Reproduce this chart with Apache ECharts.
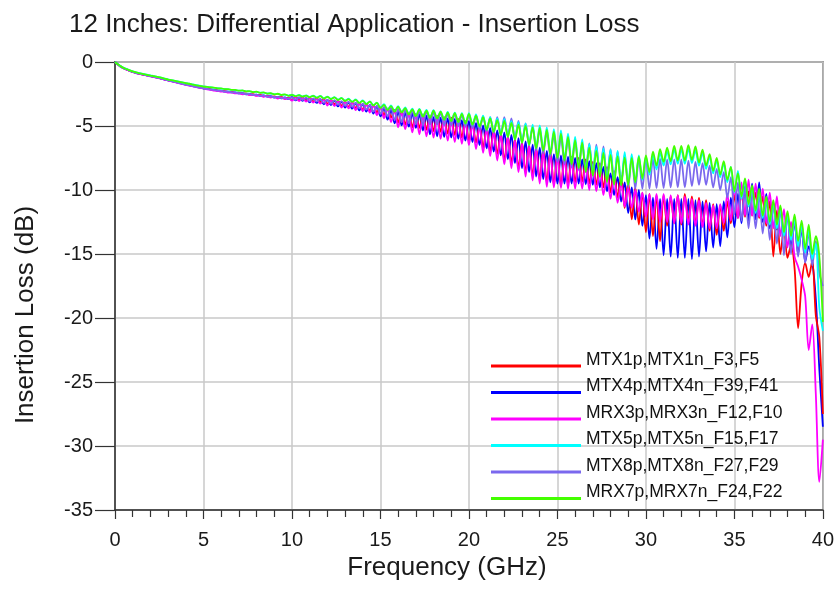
<!DOCTYPE html>
<html><head><meta charset="utf-8">
<script src="https://cdn.jsdelivr.net/npm/echarts@6/dist/echarts.min.js"></script>
<style>html,body{margin:0;padding:0;background:#fff}#c{width:837px;height:603px}</style>
</head><body><div id="c"></div>
<script>
const title = '12 Inches: Differential Application - Insertion Loss';
const xName = 'Frequency (GHz)';
const yName = 'Insertion Loss (dB)';
const seriesNames = ['MTX1p,MTX1n_F3,F5','MTX4p,MTX4n_F39,F41','MRX3p,MRX3n_F12,F10','MTX5p,MTX5n_F15,F17','MTX8p,MTX8n_F27,F29','MRX7p,MRX7n_F24,F22'];
const xTicks = [0,5,10,15,20,25,30,35,40];
const yTicks = [0,-5,-10,-15,-20,-25,-30,-35];

const freq = [
0,0.2,0.4,0.6,0.8, 1,1.2,1.4,1.6,1.8, 2,2.2,2.4,2.6,2.8, 3,3.2,3.4,3.6,3.8, 4,4.2,4.4,4.6,4.8,
5,5.2,5.4,5.6,5.8, 6,6.2,6.4,6.6,6.8, 7,7.2,7.4,7.6,7.8, 8,8.2,8.4,8.6,8.8, 9,9.2,9.4,9.6,9.8,
10,10.2,10.4,10.6,10.8, 11,11.2,11.4,11.6,11.8, 12,12.2,12.4,12.6,12.8, 13,13.2,13.4,13.6,13.8, 14,14.2,14.4,14.6,14.8,
15,15.2,15.4,15.6,15.8, 16,16.2,16.4,16.6,16.8, 17,17.2,17.4,17.6,17.8, 18,18.2,18.4,18.6,18.8, 19,19.2,19.4,19.6,19.8,
20,20.2,20.4,20.6,20.8, 21,21.2,21.4,21.6,21.8, 22,22.2,22.4,22.6,22.8, 23,23.2,23.4,23.6,23.8, 24,24.2,24.4,24.6,24.8,
25,25.2,25.4,25.6,25.8, 26,26.2,26.4,26.6,26.8, 27,27.2,27.4,27.6,27.8, 28,28.2,28.4,28.6,28.8, 29,29.2,29.4,29.6,29.8,
30,30.2,30.4,30.6,30.8, 31,31.2,31.4,31.6,31.8, 32,32.2,32.4,32.6,32.8, 33,33.2,33.4,33.6,33.8, 34,34.2,34.4,34.6,34.8,
35,35.2,35.4,35.6,35.8, 36,36.2,36.4,36.6,36.8, 37,37.2,37.4,37.6,37.8, 38,38.2,38.4,38.6,38.8, 39,39.2,39.4,39.6,39.8,
40];

// MTX1p,MTX1n_F3,F5 (red)
const mtx1 = [
0,-0.24,-0.43,-0.56,-0.67, -0.77,-0.85,-0.92,-0.98,-1.04, -1.10,-1.16,-1.22,-1.29,-1.35, -1.42,-1.48,-1.55,-1.61,-1.68, -1.74,-1.80,-1.86,-1.92,-1.98,
-2.02,-2.10,-2.12,-2.20,-2.21, -2.28,-2.28,-2.35,-2.34,-2.42, -2.40,-2.48,-2.46,-2.55,-2.52, -2.61,-2.57,-2.68,-2.63,-2.74, -2.68,-2.80,-2.73,-2.86,-2.78,
-2.97,-2.74,-2.99,-2.76,-3.03, -2.81,-3.10,-2.83,-3.14,-2.90, -3.26,-2.96,-3.30,-3.02,-3.42, -3.10,-3.52,-3.13,-3.60,-3.20, -3.75,-3.27,-3.82,-3.35,-3.95,
-3.50,-4.15,-3.65,-4.35,-3.75, -4.75,-3.85,-4.90,-3.95,-5.10, -4.05,-5.15,-4.10,-5.30,-4.20, -5.40,-4.20,-5.45,-4.30,-5.60, -4.35,-5.70,-4.45,-5.90,-4.60,
-6.15,-4.75,-6.30,-4.95,-6.70, -5.10,-7.00,-5.30,-7.20,-5.60, -7.70,-5.80,-7.90,-6.05,-8.30, -6.30,-8.60,-6.50,-8.90,-6.70, -9.20,-6.85,-9.40,-7.00,-9.60,
-7.10,-9.70,-7.25,-9.55,-7.40, -9.40,-7.50,-9.35,-7.60,-9.50, -7.80,-9.60,-7.90,-9.80,-8.20, -10.20,-8.50,-10.60,-8.90,-11.40, -9.40,-12.30,-9.80,-12.70,-10.20,
-13.30,-10.30,-13.60,-10.40,-14.00, -10.40,-12.80,-10.50,-12.60,-10.40, -12.70,-10.30,-12.50,-10.50,-12.70, -10.60,-12.80,-10.80,-13.20,-11.10, -13.50,-11.20,-13.20,-10.90,-12.60,
-10.40,-12.20,-10.20,-12.10,-10.10, -12.00,-10.20,-12.20,-10.50,-12.80, -10.90,-15.20,-11.60,-15.00,-13.00, -15.30,-14.30,-16.10,-20.80,-17.30, -15.70,-16.80,-15.50,-19.80,-21.50,
-27.5];

// MTX4p,MTX4n_F39,F41 (blue)
const mtx4 = [
0,-0.23,-0.42,-0.56,-0.67, -0.77,-0.86,-0.92,-0.98,-1.05, -1.11,-1.17,-1.23,-1.29,-1.37, -1.43,-1.50,-1.56,-1.63,-1.70, -1.76,-1.82,-1.88,-1.95,-2.00,
-2.07,-2.10,-2.15,-2.17,-2.24, -2.24,-2.31,-2.31,-2.38,-2.38, -2.45,-2.43,-2.52,-2.49,-2.58, -2.55,-2.65,-2.61,-2.71,-2.67, -2.78,-2.72,-2.84,-2.77,-2.90,
-2.73,-3.00,-2.76,-3.04,-2.82, -3.15,-2.86,-3.20,-2.92,-3.30, -2.97,-3.36,-3.02,-3.47,-3.10, -3.57,-3.16,-3.65,-3.22,-3.78, -3.27,-3.88,-3.35,-4.03,-3.45,
-4.25,-3.60,-4.50,-3.75,-4.80, -3.90,-4.95,-3.98,-5.05,-4.02, -5.15,-4.10,-5.35,-4.20,-5.65, -4.30,-5.80,-4.35,-5.85,-4.40, -5.90,-4.45,-6.00,-4.55,-6.15,
-4.60,-6.25,-4.75,-6.50,-4.95, -6.75,-5.15,-7.00,-5.35,-7.30, -5.50,-7.60,-5.70,-7.90,-5.95, -8.30,-6.20,-8.60,-6.45,-8.95, -6.70,-9.15,-6.95,-9.40,-7.20,
-9.50,-7.30,-9.50,-7.40,-9.50, -7.50,-9.50,-7.60,-9.55,-7.75, -9.60,-7.90,-9.80,-8.20,-10.10, -8.70,-10.40,-9.00,-10.90,-9.40, -11.80,-9.80,-12.30,-10.00,-12.80,
-10.40,-13.80,-10.60,-14.60,-10.70, -15.10,-10.70,-15.20,-10.70,-15.30, -10.70,-15.30,-10.70,-15.40,-10.80, -15.20,-10.90,-14.80,-11.00,-14.50, -11.10,-14.40,-10.90,-13.70,-10.60,
-12.90,-10.30,-12.60,-9.70,-12.40, -9.50,-12.30,-9.40,-12.50,-10.30, -13.00,-11.00,-13.10,-11.40,-13.50, -12.00,-14.50,-12.50,-15.00,-13.00, -15.60,-14.40,-15.60,-18.50,-24.00,
-28.5];

// MRX3p,MRX3n_F12,F10 (magenta)
const mrx3 = [
0,-0.24,-0.43,-0.56,-0.67, -0.78,-0.86,-0.93,-0.99,-1.06, -1.12,-1.18,-1.24,-1.31,-1.38, -1.45,-1.51,-1.58,-1.65,-1.71, -1.78,-1.84,-1.90,-1.96,-2.02,
-2.06,-2.14,-2.16,-2.24,-2.25, -2.32,-2.32,-2.39,-2.38,-2.45, -2.44,-2.52,-2.50,-2.58,-2.56, -2.65,-2.61,-2.72,-2.67,-2.78, -2.72,-2.85,-2.77,-2.90,-2.82,
-3.02,-2.78,-3.05,-2.80,-3.10, -2.85,-3.18,-2.88,-3.25,-2.95, -3.40,-3.00,-3.45,-3.07,-3.56, -3.10,-3.63,-3.17,-3.75,-3.22, -3.85,-3.30,-3.95,-3.38,-4.15,
-3.55,-4.40,-3.65,-4.70,-3.80, -5.10,-3.95,-5.25,-4.05,-5.50, -4.10,-5.65,-4.20,-5.80,-4.30, -5.90,-4.30,-6.00,-4.45,-6.15, -4.50,-6.25,-4.60,-6.40,-4.65,
-6.50,-4.80,-6.80,-5.05,-7.10, -5.20,-7.35,-5.45,-7.70,-5.70, -8.00,-5.90,-8.30,-6.15,-8.60, -6.40,-8.95,-6.60,-9.25,-6.80, -9.50,-7.00,-9.75,-7.20,-9.80,
-7.40,-9.85,-7.55,-9.90,-7.70, -9.90,-7.80,-9.90,-7.90,-10.00, -8.00,-10.10,-8.30,-10.40,-8.70, -10.70,-9.00,-11.00,-9.40,-11.30, -9.80,-11.40,-10.00,-11.70,-10.20,
-12.10,-10.30,-12.30,-10.30,-12.50, -10.30,-12.50,-10.40,-12.60,-10.40, -12.60,-10.50,-12.70,-10.70,-12.80, -10.80,-12.90,-11.00,-13.00,-11.20, -13.00,-11.10,-12.60,-10.30,-12.40,
-9.80,-12.20,-9.40,-12.00,-9.20, -12.00,-9.50,-12.10,-9.90,-12.60, -10.20,-13.00,-10.50,-13.60,-11.50, -14.50,-12.50,-15.20,-16.00,-17.00, -18.30,-22.50,-20.50,-25.90,-32.80,
-29.5];

// MTX5p,MTX5n_F15,F17 (cyan)
const mtx5 = [
0,-0.21,-0.39,-0.52,-0.63, -0.73,-0.81,-0.87,-0.93,-0.99, -1.05,-1.10,-1.16,-1.22,-1.29, -1.36,-1.41,-1.47,-1.53,-1.59, -1.65,-1.69,-1.75,-1.81,-1.85,
-1.91,-1.95,-1.97,-2.02,-2.05, -2.08,-2.11,-2.14,-2.17,-2.20, -2.23,-2.24,-2.29,-2.29,-2.34, -2.34,-2.40,-2.40,-2.46,-2.46, -2.52,-2.50,-2.57,-2.55,-2.63,
-2.56,-2.66,-2.57,-2.69,-2.60, -2.74,-2.62,-2.78,-2.65,-2.83, -2.70,-2.87,-2.74,-2.95,-2.80, -3.02,-2.87,-3.10,-2.93,-3.18, -3.00,-3.27,-3.07,-3.37,-3.17,
-3.55,-3.30,-3.70,-3.40,-3.85, -3.45,-3.92,-3.55,-4.05,-3.65, -4.20,-3.67,-4.25,-3.75,-4.35, -3.77,-4.40,-3.85,-4.50,-3.90, -4.60,-3.95,-4.68,-4.00,-4.80,
-4.00,-4.90,-4.10,-5.05,-4.20, -5.30,-4.30,-5.45,-4.40,-5.70, -4.45,-5.85,-4.60,-6.05,-4.70, -6.30,-4.80,-6.45,-4.90,-6.70, -4.95,-6.90,-5.10,-7.15,-5.25,
-7.40,-5.35,-7.60,-5.60,-7.90, -5.85,-8.20,-6.05,-8.50,-6.40, -8.80,-6.60,-8.90,-6.75,-9.30, -6.85,-9.50,-6.95,-9.60,-7.05, -9.55,-7.20,-9.40,-7.30,-9.20,
-7.40,-8.80,-7.25,-8.40,-7.10, -8.10,-7.00,-8.00,-6.85,-7.95, -6.85,-7.95,-6.80,-7.90,-6.90, -8.10,-7.10,-8.35,-7.40,-8.70, -7.70,-9.00,-7.90,-9.40,-8.20,
-10.20,-8.50,-10.70,-9.20,-11.30, -9.80,-11.80,-10.10,-12.20,-10.70, -12.70,-11.00,-13.00,-11.50,-13.60, -11.90,-13.90,-12.20,-14.40,-12.70, -14.90,-13.10,-15.40,-14.20,-19.20,
-21.0];

// MTX8p,MTX8n_F27,F29 (purple)
const mtx8 = [
0,-0.23,-0.42,-0.55,-0.66, -0.76,-0.85,-0.91,-0.97,-1.04, -1.10,-1.16,-1.22,-1.28,-1.36, -1.43,-1.49,-1.56,-1.63,-1.69, -1.76,-1.81,-1.88,-1.94,-1.99,
-2.06,-2.10,-2.14,-2.17,-2.23, -2.24,-2.30,-2.31,-2.37,-2.38, -2.44,-2.43,-2.51,-2.49,-2.57, -2.55,-2.64,-2.61,-2.70,-2.68, -2.77,-2.72,-2.83,-2.78,-2.89,
-2.75,-2.96,-2.76,-2.98,-2.79, -3.07,-2.84,-3.10,-2.87,-3.20, -2.95,-3.26,-2.98,-3.35,-3.06, -3.42,-3.10,-3.50,-3.18,-3.62, -3.25,-3.72,-3.35,-3.88,-3.42,
-4.05,-3.50,-4.25,-3.55,-4.55, -3.65,-4.70,-3.70,-4.80,-3.75, -4.85,-3.80,-4.90,-3.85,-4.90, -3.90,-4.90,-3.95,-4.95,-4.05, -4.95,-4.05,-5.00,-4.15,-5.05,
-4.15,-5.15,-4.20,-5.30,-4.25, -5.40,-4.30,-5.55,-4.30,-5.65, -4.30,-5.75,-4.40,-5.95,-4.60, -6.30,-4.80,-6.55,-5.05,-6.90, -5.30,-7.15,-5.50,-7.40,-5.70,
-7.80,-5.85,-8.00,-6.00,-8.25, -6.20,-8.45,-6.30,-8.60,-6.35, -8.80,-6.45,-8.90,-6.60,-9.10, -6.80,-9.30,-7.00,-9.55,-7.25, -9.80,-7.45,-9.90,-7.50,-9.90,
-7.50,-9.90,-7.55,-9.85,-7.55, -9.85,-7.60,-9.80,-7.60,-9.80, -7.60,-9.80,-7.70,-9.70,-7.80, -9.60,-7.90,-9.60,-8.10,-9.80, -8.35,-10.00,-8.60,-10.60,-9.00,
-11.90,-9.40,-12.40,-9.80,-13.00, -10.10,-13.00,-10.40,-13.40,-10.70, -13.90,-11.00,-14.20,-11.40,-15.10, -11.80,-15.00,-12.30,-15.20,-12.80, -15.70,-13.30,-15.90,-14.00,-16.50,
-17.5];

// MRX7p,MRX7n_F24,F22 (green)
const mrx7 = [
0,-0.22,-0.40,-0.53,-0.64, -0.74,-0.82,-0.88,-0.94,-1.00, -1.06,-1.11,-1.17,-1.23,-1.30, -1.37,-1.42,-1.48,-1.54,-1.60, -1.66,-1.70,-1.76,-1.82,-1.86,
-1.92,-1.94,-1.98,-2.00,-2.06, -2.06,-2.12,-2.12,-2.18,-2.18, -2.24,-2.22,-2.30,-2.27,-2.35, -2.32,-2.41,-2.38,-2.47,-2.44, -2.53,-2.48,-2.58,-2.53,-2.64,
-2.57,-2.68,-2.59,-2.71,-2.63, -2.76,-2.64,-2.80,-2.67,-2.86, -2.72,-2.89,-2.77,-2.97,-2.83, -3.05,-2.90,-3.12,-2.96,-3.20, -3.03,-3.30,-3.10,-3.40,-3.20,
-3.60,-3.35,-3.75,-3.45,-3.90, -3.48,-3.95,-3.60,-4.10,-3.70, -4.23,-3.70,-4.28,-3.80,-4.38, -3.80,-4.42,-3.88,-4.52,-3.95, -4.62,-4.00,-4.70,-4.05,-4.82,
-4.05,-4.90,-4.20,-5.05,-4.30, -5.30,-4.40,-5.45,-4.55,-5.70, -4.60,-5.85,-4.75,-6.05,-4.90, -6.30,-5.00,-6.45,-5.10,-6.75, -5.15,-6.95,-5.30,-7.20,-5.45,
-7.50,-5.60,-7.70,-5.85,-8.00, -6.10,-8.30,-6.30,-8.60,-6.70, -8.90,-6.95,-9.00,-7.10,-9.40, -7.25,-9.60,-7.35,-9.65,-7.45, -9.60,-7.50,-9.40,-7.40,-9.10,
-7.30,-8.60,-7.00,-8.10,-6.80, -7.80,-6.70,-7.75,-6.55,-7.70, -6.55,-7.70,-6.50,-7.65,-6.60, -7.85,-6.85,-8.10,-7.20,-8.50, -7.50,-8.80,-7.75,-9.20,-8.20,
-10.10,-8.70,-10.50,-9.10,-11.10, -9.65,-11.60,-9.90,-12.00,-10.50, -12.50,-10.80,-12.70,-11.20,-13.30, -11.65,-13.60,-11.90,-14.00,-12.40, -14.60,-12.70,-15.00,-13.60,-15.20,
-20.3];

const colors = {red:'#ff0000', blue:'#0000ff', magenta:'#ff00ff', cyan:'#00ffff', purple:'#7b68ee', green:'#44ff00'};
const FONT = '"Liberation Sans", Arial, Helvetica, sans-serif';

function pairs(v){ return freq.map(function(f,i){ return [f, v[i]]; }); }
function line(name, color, values){
  return {
    name: name, type: 'line', data: pairs(values), showSymbol: false, symbol: 'none',
    smooth: 0.3, lineStyle: {color: color, width: 1.8}, itemStyle: {color: color},
    emphasis: {disabled: true}, animation: false
  };
}

const chart = echarts.init(document.getElementById('c'), null, {renderer: 'canvas'});
chart.setOption({
  animation: false,
  backgroundColor: '#ffffff',
  textStyle: {fontFamily: FONT},
  title: {
    text: title, left: 64, top: 7,
    textStyle: {fontFamily: FONT, fontSize: 26, fontWeight: 'normal', color: '#1a1a1a'}
  },
  grid: {left: 115, right: 14, top: 62, bottom: 93, show: true, borderColor: '#333', borderWidth: 1.5, containLabel: false},
  legend: {
    data: seriesNames,
    orient: 'vertical', left: 491, top: 351, padding: 0,
    itemWidth: 90, itemHeight: 15, itemGap: 8.5,
    icon: 'path://M0,0H100V0.1H0Z M0,80H100V100H0Z',
    symbolKeepAspect: false,
    itemStyle: {borderWidth: 0},
    selectedMode: false,
    textStyle: {fontFamily: FONT, fontSize: 17.5, color: '#111'}
  },
  xAxis: {
    type: 'value', min: 0, max: 40, interval: 5,
    name: xName, nameLocation: 'middle', nameGap: 37,
    nameTextStyle: {fontFamily: FONT, fontSize: 26, color: '#1a1a1a', padding: [0, 44, 0, 0]},
    axisLine: {show: true, onZero: false, lineStyle: {color: '#333', width: 1.5}},
    axisTick: {show: true, length: 9, lineStyle: {color: '#333', width: 1.2}},
    minorTick: {show: true, splitNumber: 5, length: 7, lineStyle: {color: '#333', width: 1.2}},
    axisLabel: {fontFamily: FONT, fontSize: 20, color: '#1a1a1a', margin: 20,
      formatter: function(v){ return xTicks.indexOf(v) >= 0 ? String(v) : ''; }},
    splitLine: {show: true, lineStyle: {color: '#c8c8c8', width: 1.5}}
  },
  yAxis: {
    type: 'value', min: -35, max: 0, interval: 5,
    name: yName, nameLocation: 'middle', nameGap: 76,
    nameTextStyle: {fontFamily: FONT, fontSize: 26, color: '#1a1a1a', padding: [0, 58, 0, 0]},
    axisLine: {show: true, onZero: false, lineStyle: {color: '#333', width: 1.5}},
    axisTick: {show: true, length: 20, lineStyle: {color: '#333', width: 1.2}},
    axisLabel: {fontFamily: FONT, fontSize: 20, color: '#1a1a1a', margin: 22,
      formatter: function(v){ return yTicks.indexOf(v) >= 0 ? String(v) : ''; }},
    splitLine: {show: true, lineStyle: {color: '#c8c8c8', width: 1.5}}
  },
  series: [
    line(seriesNames[1], colors.blue, mtx4),
    line(seriesNames[0], colors.red, mtx1),
    line(seriesNames[2], colors.magenta, mrx3),
    line(seriesNames[4], colors.purple, mtx8),
    line(seriesNames[3], colors.cyan, mtx5),
    line(seriesNames[5], colors.green, mrx7)
  ]
});
</script>
</body></html>
